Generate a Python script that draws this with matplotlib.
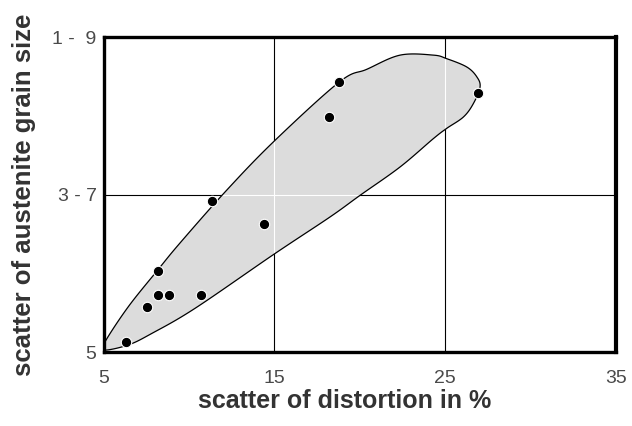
import numpy as np
import matplotlib.pyplot as plt
from matplotlib.patches import Polygon

plt.rcParams['font.family'] = ['Liberation Sans', 'DejaVu Sans']

# measured scatter values
distortion = [6.3, 7.53, 8.17, 8.17, 8.82, 10.69, 11.33, 14.41, 18.2, 18.81, 26.91]
grain_range = [0.26, 1.15, 2.05, 1.44, 1.44, 1.45, 3.83, 3.26, 5.96, 6.86, 6.57]

# hand-drawn envelope around the measurements
env_x = [5.03, 6.45, 7.82, 10.36, 15.0, 18.26, 20.02, 22.36, 24.31, 25.09, 26.07,
         26.65, 27.04, 26.85, 26.26, 25.09, 24.31, 22.36, 20.41, 18.81, 15.0,
         12.21, 9.48, 8.17, 6.45, 5.09]
env_y = [0.05, 0.18, 0.47, 1.11, 2.49, 3.43, 3.98, 4.70, 5.42, 5.68, 5.97,
         6.31, 6.73, 6.99, 7.24, 7.45, 7.54, 7.54, 7.18, 6.86, 5.36,
         4.11, 2.77, 2.08, 1.15, 0.26]

x_ticks = [5, 15, 25, 35]
y_ticks = [0, 4, 8]
y_ticklabels = ['5', '3 - 7', '1 -  9']


def closed_spline(xs, ys, n=20):
    # closed Catmull-Rom curve through the envelope points
    P = np.column_stack([xs, ys])
    m = len(P)
    t = np.linspace(0, 1, n, endpoint=False)[:, None]
    segs = []
    for i in range(m):
        p0, p1, p2, p3 = P[i - 1], P[i], P[(i + 1) % m], P[(i + 2) % m]
        segs.append(0.5 * (2 * p1 + (-p0 + p2) * t
                           + (2 * p0 - 5 * p1 + 4 * p2 - p3) * t ** 2
                           + (-p0 + 3 * p1 - 3 * p2 + p3) * t ** 3))
    return np.vstack(segs)


fig = plt.figure(figsize=(6.32, 4.26), dpi=100)
ax = fig.add_axes([0.1638, 0.1737, 0.8109, 0.7394])

# grid lines
for xv in (15, 25):
    ax.axvline(xv, color='black', lw=0.8, zorder=1)
ax.axhline(4, color='black', lw=0.8, zorder=1)

curve = closed_spline(env_x, env_y)
fill = Polygon(curve, closed=True, facecolor='#dcdcdc', edgecolor='none', zorder=2)
ax.add_patch(fill)

# grid shows white through the shaded area
clip = Polygon(curve, closed=True, transform=ax.transData)
for xv in (15, 25):
    ln = ax.axvline(xv, color='white', lw=0.8, zorder=2.5)
    ln.set_clip_path(clip)
ln = ax.axhline(4, color='white', lw=0.8, zorder=2.5)
ln.set_clip_path(clip)

ax.add_patch(Polygon(curve, closed=True, facecolor='none', edgecolor='black',
                     lw=0.9, zorder=3))

ax.plot(distortion, grain_range, 'o', color='black', markersize=7.5,
        markeredgecolor='white', markeredgewidth=0.8, zorder=4, clip_on=False)

ax.set_xlim(5, 35)
ax.set_ylim(0, 8)
ax.set_xticks(x_ticks)
ax.set_yticks(y_ticks)
ax.set_yticklabels(y_ticklabels)
ax.tick_params(length=0, labelsize=14, labelcolor='#4a4a4a')
ax.tick_params(axis='x', pad=13)
ax.tick_params(axis='y', pad=5)

for side in ax.spines.values():
    side.set_linewidth(2.4)
    side.set_zorder(5)
ax.spines['right'].set_linewidth(3)

ax.set_xlabel('scatter of distortion in %', fontsize=18, fontweight='bold',
              color='#333333', va='center')
ax.set_ylabel('scatter of austenite grain size', fontsize=18.5, fontweight='bold',
              color='#333333', va='center')
ax.xaxis.set_label_coords(0.471, -0.157)
ax.yaxis.set_label_coords(-0.155, 0.5)

fig.savefig('out.png', dpi=100)
